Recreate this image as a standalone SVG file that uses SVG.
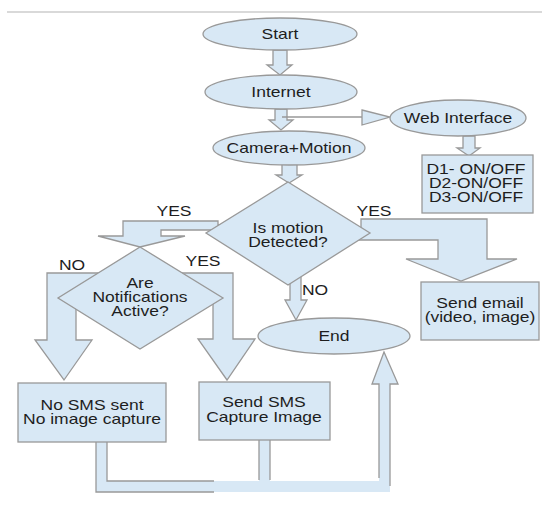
<svg xmlns="http://www.w3.org/2000/svg" width="542" height="514" viewBox="0 0 542 514">
<style>
.sh{fill:#d8e8f5;stroke:#999;stroke-width:1.3;stroke-linejoin:miter}
.fo{fill:#d8e8f5;stroke:none}
.ln{fill:none;stroke:#999;stroke-width:1.3}
.t{font-family:"Liberation Sans",Arial,sans-serif;font-size:14px;fill:#1e1e1e;text-anchor:middle}
</style>
<rect width="542" height="514" fill="#fff"/>
<line x1="7" y1="12" x2="542" y2="12" stroke="#ccc" stroke-width="1.3"/>
<g id="connectors">
<polygon class="sh" points="273,50 287,50 287,65 292,65 280,75 267,65 273,65"/>
<polygon class="sh" points="275,109 287,109 287,120 293,120 281,130 269,120 275,120"/>
<line class="ln" x1="282" y1="117" x2="362" y2="117"/>
<polygon class="sh" points="362,110 390,117 362,125"/>
<polygon class="sh" points="282,164 297,164 297,175 302,175 289,183 276,175 282,175"/>
<polygon class="sh" points="463,136 475,136 475,148 480,148 469,156 457,148 463,148"/>
<polygon class="sh" points="218,221 123,221 123,236 98,236 140,247 185,236 161,236 161,230 235,230 235,225 218,225"/>
<polygon class="sh" points="361,219 487,219 487,259 517,259 461,281 406,259 438,259 438,240 350,240 350,228 361,228"/>
<polygon class="sh" points="290,275 301,275 301,300 307,300 296,320 285,300 290,300"/>
<polygon class="sh" points="110,273 47,273 47,340 35,340 64,380 92,340 76,340 76,305 110,305"/>
<polygon class="sh" points="175,273 233,273 233,339 255,339 227,380 198,339 213,339 213,300 175,300"/>
<polygon class="fo" points="96,442 107,442 107,481 379,481 379,384 372,384 384,352 398,384 390,384 390,492 96,492"/>
<rect class="fo" x="259" y="439" width="11" height="43"/>
<path class="ln" d="M96,442 V492 H214 M107,442 V481 H214 M259,439 V480 M270,439 V480 M379,478 V384 H372 L384,352 L398,384 H390 V486"/>
</g>
<g id="start"><ellipse class="sh" cx="280" cy="34" rx="77" ry="16"/><text class="t" transform="translate(280,39) scale(1.25,1)">Start</text></g>
<g id="internet"><ellipse class="sh" cx="281" cy="92" rx="76" ry="17"/><text class="t" transform="translate(281,97) scale(1.25,1)">Internet</text></g>
<g id="web"><ellipse class="sh" cx="458" cy="118" rx="68" ry="18"/><text class="t" transform="translate(458,123) scale(1.25,1)">Web Interface</text></g>
<g id="camera"><ellipse class="sh" cx="289" cy="148" rx="76" ry="17"/><text class="t" transform="translate(289,153) scale(1.25,1)">Camera+Motion</text></g>
<g id="devices"><rect class="sh" x="422" y="155" width="111" height="58"/>
<text class="t" transform="translate(476,174) scale(1.25,1)">D1- ON/OFF</text>
<text class="t" transform="translate(476,188) scale(1.25,1)">D2-ON/OFF</text>
<text class="t" transform="translate(476,202) scale(1.25,1)">D3-ON/OFF</text></g>
<g id="motion"><polygon class="sh" points="288,182 370,233 288,285 206,233"/>
<text class="t" transform="translate(288,233) scale(1.25,1)">Is motion</text>
<text class="t" transform="translate(288,247) scale(1.25,1)">Detected?</text></g>
<g id="notif"><polygon class="sh" points="140,247 223,298 140,349 58,298"/>
<text class="t" transform="translate(140,288) scale(1.25,1)">Are</text>
<text class="t" transform="translate(140,302) scale(1.25,1)">Notifications</text>
<text class="t" transform="translate(140,316) scale(1.25,1)">Active?</text></g>
<g id="email"><rect class="sh" x="421" y="282" width="118" height="58"/>
<text class="t" transform="translate(480,308) scale(1.25,1)">Send email</text>
<text class="t" transform="translate(480,322) scale(1.25,1)">(video, image)</text></g>
<g id="end"><ellipse class="sh" cx="334" cy="336" rx="76" ry="18"/><text class="t" transform="translate(334,341) scale(1.25,1)">End</text></g>
<g id="nosms"><rect class="sh" x="18" y="383" width="148" height="59"/>
<text class="t" transform="translate(92,410) scale(1.25,1)">No SMS sent</text>
<text class="t" transform="translate(92,424) scale(1.25,1)">No image capture</text></g>
<g id="sendsms"><rect class="sh" x="199" y="382" width="131" height="58"/>
<text class="t" transform="translate(264,407) scale(1.25,1)">Send SMS</text>
<text class="t" transform="translate(264,422) scale(1.25,1)">Capture Image</text></g>
<g id="labels">
<text class="t" transform="translate(174,216) scale(1.25,1)">YES</text>
<text class="t" transform="translate(374,216) scale(1.25,1)">YES</text>
<text class="t" transform="translate(203,266) scale(1.25,1)">YES</text>
<text class="t" transform="translate(72,270) scale(1.25,1)">NO</text>
<text class="t" transform="translate(315,295) scale(1.25,1)">NO</text>
</g>
</svg>
